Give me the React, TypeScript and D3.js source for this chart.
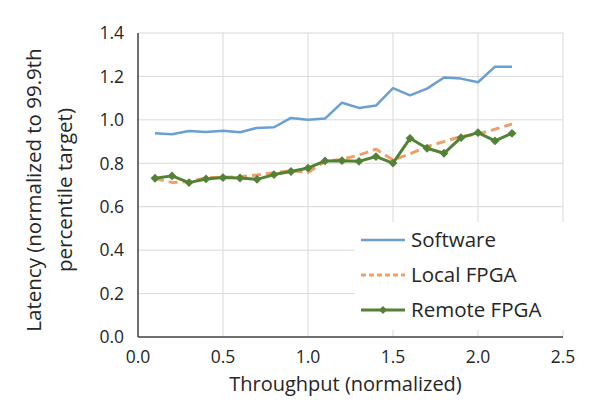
import * as d3 from "d3";
import { useEffect, useRef } from "react";

const width = 614;
const height = 419;
const margin = { top: 33, right: 51, bottom: 82, left: 138 };

const throughput = [0.1, 0.2, 0.3, 0.4, 0.5, 0.6, 0.7, 0.8, 0.9, 1.0, 1.1, 1.2, 1.3, 1.4, 1.5, 1.6, 1.7, 1.8, 1.9, 2.0, 2.1, 2.2];
const software = [0.938, 0.934, 0.949, 0.944, 0.95, 0.943, 0.963, 0.966, 1.009, 1.001, 1.006, 1.079, 1.055, 1.066, 1.146, 1.113, 1.144, 1.195, 1.19, 1.173, 1.245, 1.245];
const localFpga = [0.73, 0.712, 0.715, 0.734, 0.735, 0.738, 0.746, 0.757, 0.766, 0.758, 0.808, 0.818, 0.838, 0.865, 0.815, 0.843, 0.877, 0.9, 0.923, 0.935, 0.957, 0.981];
const remoteFpga = [0.731, 0.742, 0.711, 0.728, 0.734, 0.732, 0.726, 0.748, 0.762, 0.778, 0.811, 0.812, 0.809, 0.831, 0.801, 0.915, 0.869, 0.846, 0.918, 0.941, 0.903, 0.938];
const xTicks = [0, 0.5, 1.0, 1.5, 2.0, 2.5];
const yTicks = [0, 0.2, 0.4, 0.6, 0.8, 1.0, 1.2, 1.4];

const seriesList = [
  { name: "Software", values: software, color: "#6a9fd3", dash: "", width: 2.5, marker: false },
  { name: "Local FPGA", values: localFpga, color: "#eea06a", dash: "9,5", width: 3, marker: false },
  { name: "Remote FPGA", values: remoteFpga, color: "#548235", dash: "", width: 3, marker: true },
];

const font = "'Open Sans', 'Noto Sans', sans-serif";

export default function App() {
  const svgRef = useRef<SVGSVGElement | null>(null);

  useEffect(() => {
    if (!svgRef.current) return;
    const svg = d3.select(svgRef.current);
    svg.selectAll("*").remove();

    const innerWidth = width - margin.left - margin.right;
    const innerHeight = height - margin.top - margin.bottom;
    const x = d3.scaleLinear().domain([0, 2.5]).range([0, innerWidth]);
    const y = d3.scaleLinear().domain([0, 1.4]).range([innerHeight, 0]);

    svg.append("rect").attr("width", width).attr("height", height).attr("fill", "#fff");
    const chart = svg.append("g").attr("transform", `translate(${margin.left}, ${margin.top})`);

    // gridlines
    chart
      .selectAll("line.h")
      .data(yTicks.slice(1))
      .join("line")
      .attr("x1", 0)
      .attr("x2", innerWidth)
      .attr("y1", (t) => y(t))
      .attr("y2", (t) => y(t))
      .attr("stroke", "#d9d9d9")
      .attr("stroke-width", 1);
    chart
      .selectAll("line.v")
      .data(xTicks.slice(1))
      .join("line")
      .attr("x1", (t) => x(t))
      .attr("x2", (t) => x(t))
      .attr("y1", 0)
      .attr("y2", innerHeight)
      .attr("stroke", "#d9d9d9")
      .attr("stroke-width", 1);

    // axes
    chart.append("line").attr("x1", 0).attr("x2", 0).attr("y1", 0).attr("y2", innerHeight).attr("stroke", "#404040").attr("stroke-width", 1.5);
    chart.append("line").attr("x1", 0).attr("x2", innerWidth).attr("y1", innerHeight).attr("y2", innerHeight).attr("stroke", "#404040").attr("stroke-width", 1.5);

    chart
      .selectAll("text.yt")
      .data(yTicks)
      .join("text")
      .attr("x", -14)
      .attr("y", (t) => y(t))
      .attr("dy", "0.36em")
      .attr("text-anchor", "end")
      .attr("font-family", font)
      .attr("font-size", 17.5)
      .attr("fill", "#262626")
      .text((t) => d3.format(".1f")(t));
    chart
      .selectAll("text.xt")
      .data(xTicks)
      .join("text")
      .attr("x", (t) => x(t))
      .attr("y", innerHeight + 26)
      .attr("text-anchor", "middle")
      .attr("font-family", font)
      .attr("font-size", 17.5)
      .attr("fill", "#262626")
      .text((t) => d3.format(".1f")(t));

    // series
    for (const s of seriesList) {
      const pts = throughput.map((t, i) => [t, s.values[i]] as [number, number]);
      const line = d3.line<[number, number]>().x((d) => x(d[0])).y((d) => y(d[1]));
      chart
        .append("path")
        .datum(pts)
        .attr("d", line)
        .attr("fill", "none")
        .attr("stroke", s.color)
        .attr("stroke-width", s.width)
        .attr("stroke-dasharray", s.dash || null)
        .attr("stroke-linejoin", "round");
      if (s.marker) {
        chart
          .append("g")
          .selectAll("path")
          .data(pts)
          .join("path")
          .attr("d", d3.symbol(d3.symbolDiamond2, 50)() as string)
          .attr("transform", (d) => `translate(${x(d[0])}, ${y(d[1])})`)
          .attr("fill", s.color);
      }
    }

    // legend
    const legend = svg.append("g").attr("transform", "translate(355, 222)");
    legend.append("rect").attr("width", 220).attr("height", 108).attr("fill", "#fff");
    seriesList.forEach((s, i) => {
      const g = legend.append("g").attr("transform", `translate(0, ${18 + i * 35})`);
      g.append("line")
        .attr("x1", 6)
        .attr("x2", 50)
        .attr("stroke", s.color)
        .attr("stroke-width", s.width)
        .attr("stroke-dasharray", s.dash ? "5,3" : null);
      if (s.marker) {
        g.append("path").attr("d", d3.symbol(d3.symbolDiamond2, 40)() as string).attr("transform", "translate(28, 0)").attr("fill", s.color);
      }
      g.append("text")
        .attr("x", 56)
        .attr("dy", "0.36em")
        .attr("font-family", font)
        .attr("font-size", 20.5)
        .attr("fill", "#262626")
        .text(s.name);
    });

    // axis titles
    svg
      .append("text")
      .attr("x", margin.left + innerWidth / 2 - 5)
      .attr("y", 391)
      .attr("text-anchor", "middle")
      .attr("font-family", font)
      .attr("font-size", 20)
      .attr("fill", "#262626")
      .text("Throughput (normalized)");
    const yTitle = svg.append("g").attr("transform", `translate(0, 190) rotate(-90)`);
    yTitle.append("text").attr("x", 0).attr("y", 41).attr("text-anchor", "middle").attr("font-family", font).attr("font-size", 20.5).attr("fill", "#262626").text("Latency (normalized to 99.9th");
    yTitle.append("text").attr("x", 0).attr("y", 72).attr("text-anchor", "middle").attr("font-family", font).attr("font-size", 20.5).attr("fill", "#262626").text("percentile target)");
  }, []);

  return <svg ref={svgRef} width={width} height={height} style={{ position: "absolute", left: 0, top: 0 }} />;
}
